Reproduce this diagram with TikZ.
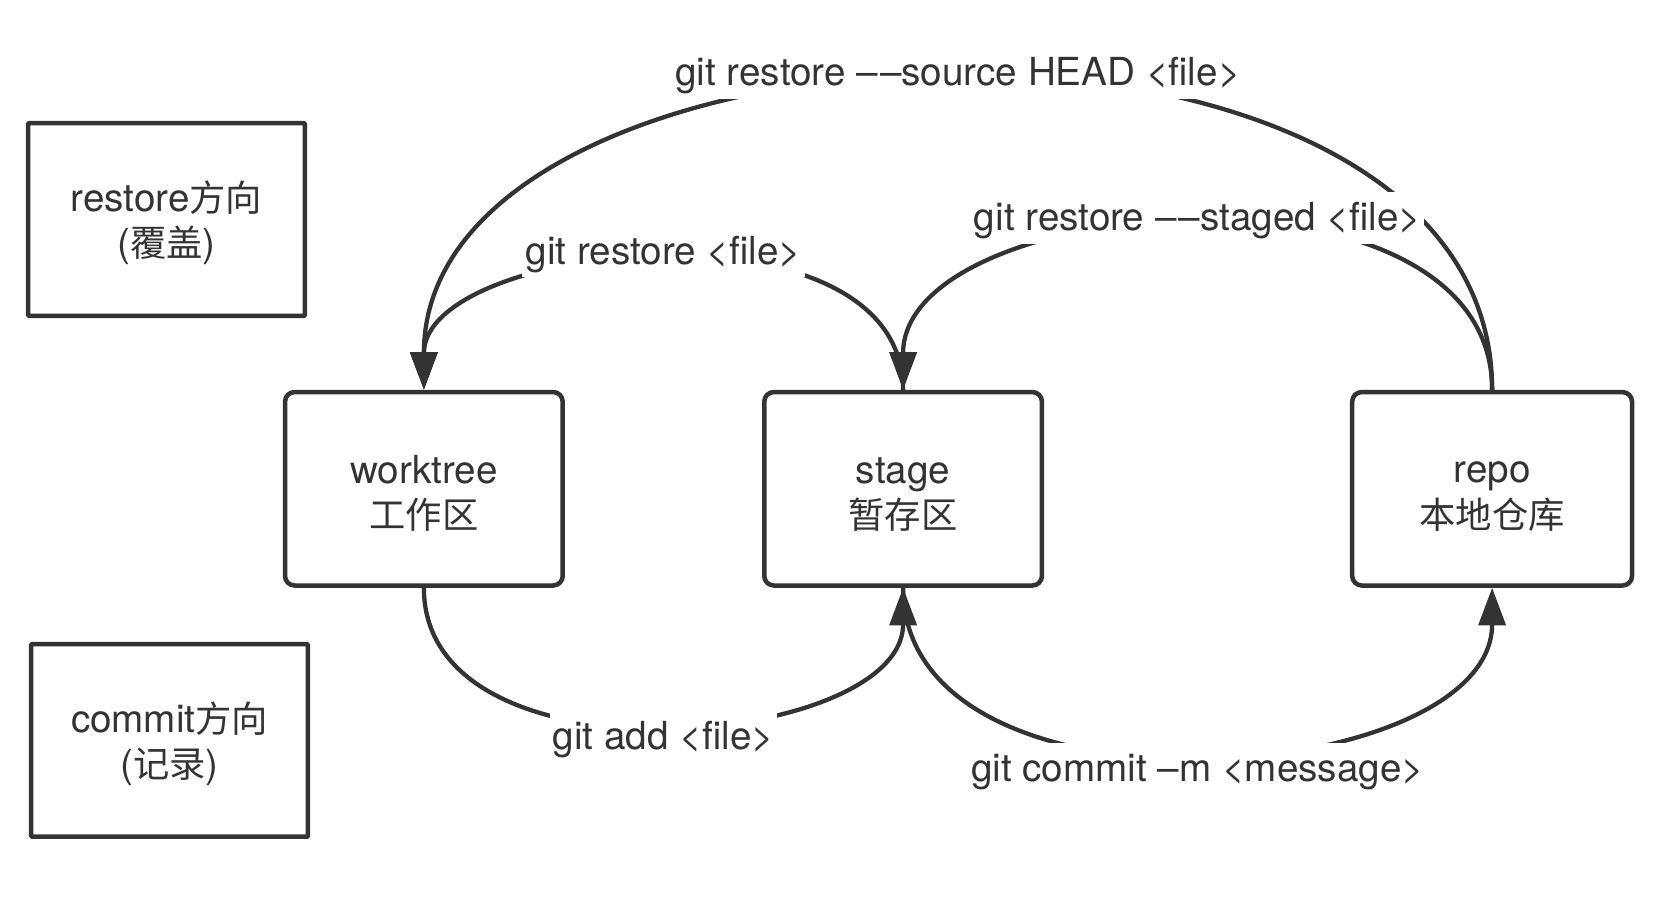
\documentclass[tikz,border=0pt]{standalone}
\usepackage{fontspec}
\setmainfont{TeX Gyre Heros}
\newfontfamily\zhfont{Noto Sans CJK SC}[Scale=0.94]
\newcommand\zh[1]{{\zhfont #1}}
\newcommand\fs{\fontsize{36}{42}\selectfont}
\newcommand\strt{\rule{0pt}{34pt}}
\newcommand\ddash{–\kern2pt–}
\usetikzlibrary{arrows.meta}
\definecolor{ink}{HTML}{333333}
\begin{document}
\begin{tikzpicture}[x=1pt,y=-1pt,
  box/.style={draw=ink, line width=4.2pt, rounded corners=9pt, minimum width=258.8pt, minimum height=180.3pt, align=center, text=ink, font=\fs, inner sep=0pt},
  side/.style={box, rounded corners=1pt, minimum width=258pt, minimum height=179.5pt},
  conn/.style={draw=ink, line width=4pt, -{Triangle[length=35pt,width=25pt]}},
  lbl/.style={fill=white, text=ink, font=\fs, text height=33pt, text depth=9pt, inner xsep=3pt, inner ysep=3pt}]
\useasboundingbox (0,0) rectangle (1560,835);
\fill[white] (0,0) rectangle (1560,835);

\node[side] (rest) at (155.2,204.5) {\strt restore\zh{方向}\\(\zh{覆盖})};
\node[side] (comm) at (158,690) {\strt commit\zh{方向}\\(\zh{记录})};

\node[box] (work) at (395,455.5) {\strt worktree\\\zh{工作区}};
\node[box] (stage) at (841.6,455.5) {\strt stage\\\zh{暂存区}};
\node[box, minimum width=260.8pt] (repo) at (1390.5,455.5) {\strt repo\\\zh{本地仓库}};

\draw[conn] (repo.north) .. controls +(0,-406.5) and +(0,-368.8) .. (work.north)
  node[lbl,pos=.5,yshift=4.4pt] {git restore \ddash source HEAD <file>};
\draw[conn] (repo.north) .. controls +(0,-228.4) and +(0,-184.55) .. (stage.north)
  node[lbl,pos=.5,yshift=5.4pt] {git restore \ddash staged <file>};
\draw[conn] (stage.north) .. controls +(0,-184) and +(0,-138.75) .. (work.north)
  node[lbl,pos=.5,yshift=8.2pt] {git restore <file>};
\draw[conn] (work.south) .. controls +(0,190) and +(0,149.15) .. (stage.south)
  node[lbl,pos=.5,yshift=-11.1pt] {git add <file>};
\draw[conn] (stage.south) .. controls +(0,228.25) and +(0,186.85) .. (repo.south)
  node[lbl,pos=.5,yshift=-13.3pt] {git commit –m <message>};
\end{tikzpicture}
\end{document}
